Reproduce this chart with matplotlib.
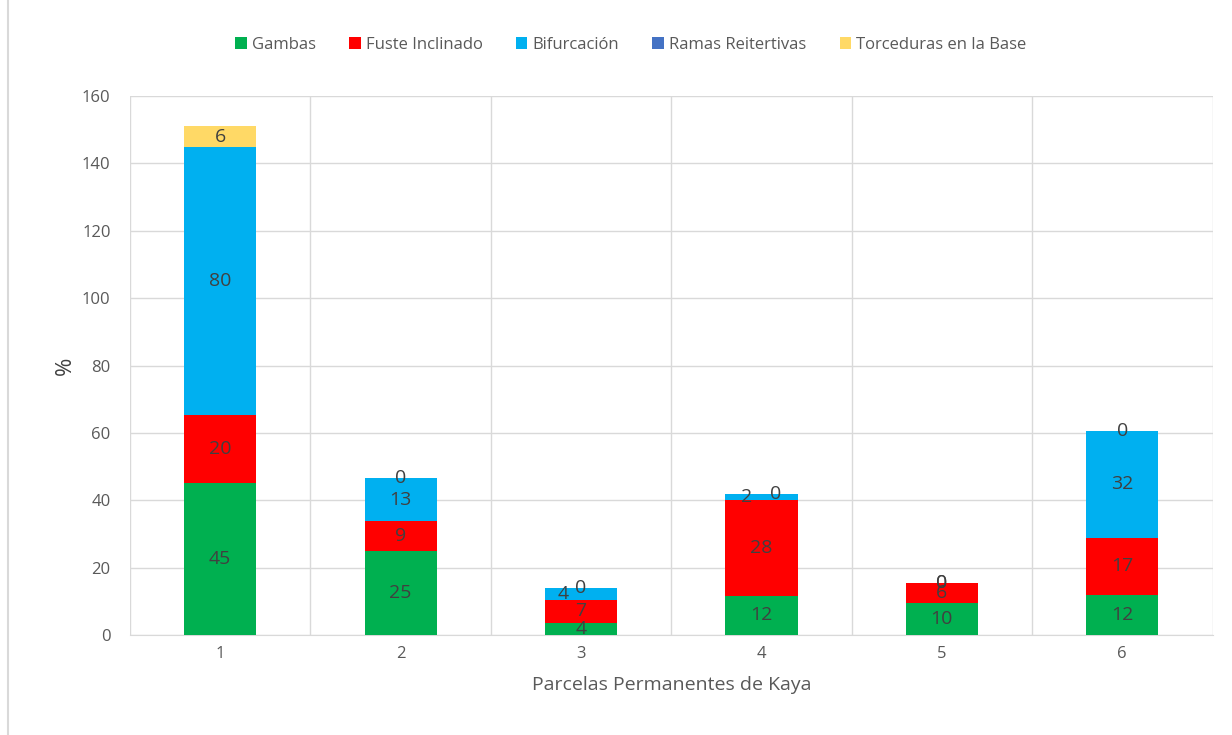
import numpy as np
import matplotlib
matplotlib.use("Agg")
import matplotlib.pyplot as plt
from matplotlib.lines import Line2D

# dados
parcelas = ["1", "2", "3", "4", "5", "6"]
gambas = [45.1, 24.9, 3.6, 11.6, 9.5, 11.9]
fuste = [20.2, 8.9, 6.8, 28.4, 5.9, 16.9]
bifurcacion = [79.5, 12.7, 3.6, 1.8, 0, 31.8]
ramas = [0, 0, 0, 0, 0, 0]
torceduras = [6.3, 0, 0, 0, 0, 0]

series = ["Gambas", "Fuste Inclinado", "Bifurcación", "Ramas Reitertivas", "Torceduras en la Base"]
cores = ["#00B050", "#FF0000", "#00B0F0", "#4472C4", "#FFD966"]

plt.rcParams['font.family'] = ['Open Sans', 'DejaVu Sans']

fig = plt.figure(figsize=(12.32, 7.35), dpi=100)
ax = fig.add_axes([130 / 1232, 1 - 635 / 735, (1212.5 - 130) / 1232, (635 - 96) / 735])

x = np.arange(1, len(parcelas) + 1)
base = np.zeros(len(parcelas))
dados = [gambas, fuste, bifurcacion, ramas, torceduras]
for vals, cor, nome in zip(dados, cores, series):
    vals = np.array(vals, dtype=float)
    ax.bar(x, vals, 0.4, bottom=base, color=cor, label=nome, zorder=3)
    for i in range(len(x)):
        if nome == "Ramas Reitertivas":
            continue  # sem rótulos
        dx = 0
        # deslocamentos manuais p/ rótulos sobrepostos (como no excel)
        if nome == "Bifurcación" and i in (2, 3) and vals[i] > 0:
            dx = -0.1 if i == 2 else -0.08
        if nome == "Torceduras en la Base" and i == 3:
            dx = 0.08
        ax.text(x[i] + dx, base[i] + vals[i] / 2, f"{vals[i]:.0f}", ha="center", va="center",
                fontsize=14, color="#404040", zorder=5)
    base = base + vals

ax.set_xlim(0.5, 6.5)
ax.set_ylim(0, 160)
ax.set_yticks(np.arange(0, 161, 20))
ax.set_xticks(x)
ax.set_xticklabels(parcelas)
ax.set_xticks(np.arange(0.5, 6.6, 1), minor=True)
ax.grid(True, which="major", axis="y", color="#D9D9D9", lw=1, zorder=0)
ax.grid(True, which="minor", axis="x", color="#D9D9D9", lw=1, zorder=0)
ax.tick_params(which="both", length=0, colors="#595959", labelsize=12)
ax.tick_params(axis="x", pad=8)
ax.tick_params(axis="y", pad=14)
for s in ["top", "right", "left"]:
    ax.spines[s].set_visible(False)
ax.spines["bottom"].set_color("#D9D9D9")

ax.set_xlabel("Parcelas Permanentes de Kaya", fontsize=14, color="#595959", labelpad=10)
ax.set_ylabel("%", fontsize=16, color="#404040", labelpad=4)

handles, labels = ax.get_legend_handles_labels()
fig.legend(handles, labels, loc="center", bbox_to_anchor=(0.512, 1 - 45 / 735), ncol=5,
           frameon=False, fontsize=12, handlelength=0.7, handleheight=0.7, handletextpad=0.3,
           columnspacing=2.0, labelcolor="#595959")

fig.add_artist(Line2D([8 / 1232, 8 / 1232], [0, 1], color="#D9D9D9", lw=1.5))

fig.savefig("out.png", dpi=100)
